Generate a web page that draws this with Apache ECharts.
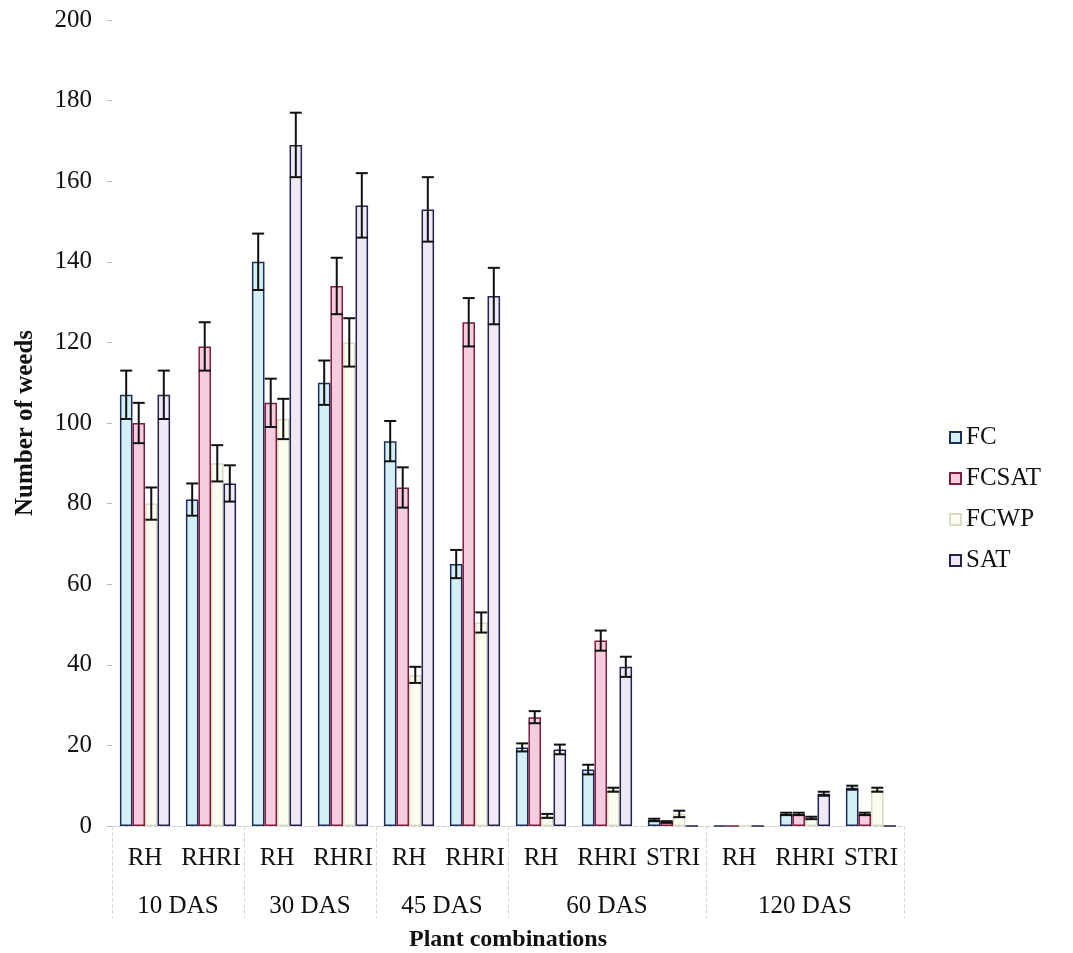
<!DOCTYPE html>
<html>
<head>
<meta charset="utf-8">
<script src="https://cdn.jsdelivr.net/npm/echarts@6/dist/echarts.min.js"></script>
<style>
  html, body { margin: 0; padding: 0; background: #fff; }
  #main { width: 1073px; height: 953px; }
</style>
</head>
<body>
<div id="main"></div>
<script>
var chartDom = document.getElementById('main');
var myChart = echarts.init(chartDom, null, { renderer: 'canvas' });

// sub categories (plant combinations) and their sampling dates
const categories = ['RH', 'RHRI', 'RH', 'RHRI', 'RH', 'RHRI', 'RH', 'RHRI', 'STRI', 'RH', 'RHRI', 'STRI'];
const groups = ['10 DAS', '30 DAS', '45 DAS', '60 DAS', '120 DAS'];
const groupSizes = [2, 2, 2, 3, 3];
const yTicks = [0, 20, 40, 60, 80, 100, 120, 140, 160, 180, 200];

// number of weeds
const fc = [107, 81, 140, 110, 95.5, 65, 19.5, 14, 1.5, 0, 3, 9.5];
const fcsat = [100, 119, 105, 134, 84, 125, 27, 46, 1, 0, 3, 3];
const fcwp = [80, 90, 101, 120, 37.5, 50.5, 2.5, 9, 3, 0, 2, 9];
const sat = [107, 85, 169, 154, 153, 131.5, 19, 39.5, 0, 0, 8, 0];

// standard errors
const fcErr = [6, 4, 7, 5.5, 5, 3.5, 1, 1.2, 0.3, 0, 0.3, 0.5];
const fcsatErr = [5, 6, 6, 7, 5, 6, 1.5, 2.5, 0.2, 0, 0.3, 0.3];
const fcwpErr = [4, 4.5, 5, 6, 2, 2.5, 0.5, 0.5, 0.8, 0, 0.3, 0.5];
const satErr = [6, 4.5, 8, 8, 8, 7, 1.2, 2.5, 0, 0, 0.5, 0];

const seriesNames = ['FC', 'FCSAT', 'FCWP', 'SAT'];
const values = [fc, fcsat, fcwp, sat];
const errors = [fcErr, fcsatErr, fcwpErr, satErr];
const fills = ['#d3f1f4', '#f6cddf', '#fcfcf0', '#eee9f4'];
const borders = ['#1f2d5c', '#7d1d3f', '#dcdcc4', '#22244e'];

const font = 'Liberation Serif';
const catGap = 0.24;

// group centres and borders on a 0..12 scale
const groupCentres = [];
const groupEdges = [0];
let acc = 0;
groupSizes.forEach(function (n) {
    groupCentres.push(acc + n / 2);
    acc += n;
    groupEdges.push(acc);
});

function errorBars(s) {
    return function (params, api) {
        const x = api.value(0);
        const v = api.value(1);
        const e = api.value(2);
        if (!e) return;
        const band = api.size([1, 0])[0];
        const bw = band * (1 - catGap) / 4;
        const cx = api.coord([x, v])[0] + (s - 1.5) * bw;
        const top = api.coord([x, v + e])[1];
        const bot = api.coord([x, Math.max(0, v - e)])[1];
        const cap = 6;
        const style = { stroke: '#111', lineWidth: 2 };
        return {
            type: 'group',
            children: [
                { type: 'line', shape: { x1: cx, y1: top, x2: cx, y2: bot }, style: style },
                { type: 'line', shape: { x1: cx - cap, y1: top, x2: cx + cap, y2: top }, style: style },
                { type: 'line', shape: { x1: cx - cap, y1: bot, x2: cx + cap, y2: bot }, style: style }
            ]
        };
    };
}

const series = [];
seriesNames.forEach(function (name, s) {
    series.push({
        name: name,
        type: 'bar',
        data: values[s],
        barGap: '0%',
        barCategoryGap: (catGap * 100) + '%',
        itemStyle: {
            color: fills[s],
            borderColor: borders[s],
            borderWidth: 1.5
        }
    });
});
seriesNames.forEach(function (name, s) {
    series.push({
        name: name + ' error',
        type: 'custom',
        xAxisIndex: 0,
        yAxisIndex: 0,
        z: 5,
        renderItem: errorBars(s),
        encode: { x: 0, y: 1 },
        data: values[s].map(function (v, i) { return [i, v, errors[s][i]]; })
    });
});

var option = {
    backgroundColor: '#fff',
    animation: false,
    grid: { left: 112, right: 169, top: 20, bottom: 127, outerBoundsMode: 'none' },
    legend: {
        data: seriesNames,
        orient: 'vertical',
        left: 944,
        top: 420,
        itemWidth: 11,
        itemHeight: 11,
        itemGap: 16,
        icon: 'rect',
        textStyle: { fontFamily: font, fontSize: 25, color: '#111' }
    },
    xAxis: [
        {
            type: 'category',
            data: categories,
            axisLine: { show: true, lineStyle: { color: '#cfcfcf', type: 'dashed' } },
            axisTick: { show: false },
            axisLabel: {
                fontFamily: font,
                fontSize: 25,
                color: '#111',
                margin: 20,
                interval: 0
            }
        },
        {
            type: 'value',
            min: 0,
            max: categories.length,
            position: 'bottom',
            name: 'Plant combinations',
            nameLocation: 'middle',
            nameGap: 102,
            nameTextStyle: { fontFamily: font, fontSize: 24, fontWeight: 'bold', color: '#111' },
            axisLine: { show: false },
            splitLine: { show: false },
            axisTick: {
                show: true,
                customValues: groupEdges,
                length: 92,
                lineStyle: { color: '#d8d8d8', type: 'dashed' }
            },
            axisLabel: {
                customValues: groupCentres,
                fontFamily: font,
                fontSize: 25,
                color: '#111',
                margin: 68,
                formatter: function (v) {
                    const i = groupCentres.indexOf(v);
                    return i >= 0 ? groups[i] : '';
                }
            }
        }
    ],
    yAxis: {
        type: 'value',
        min: yTicks[0],
        max: yTicks[yTicks.length - 1],
        interval: yTicks[1] - yTicks[0],
        name: 'Number of weeds',
        nameLocation: 'middle',
        nameGap: 74,
        nameTextStyle: { fontFamily: font, fontSize: 25, fontWeight: 'bold', color: '#111' },
        axisLine: { show: false },
        axisTick: { show: true, length: 5, lineStyle: { color: '#bbb' } },
        splitLine: { show: false },
        axisLabel: { fontFamily: font, fontSize: 25, color: '#111', margin: 20 }
    },
    series: series
};

option && myChart.setOption(option);
</script>
</body>
</html>
